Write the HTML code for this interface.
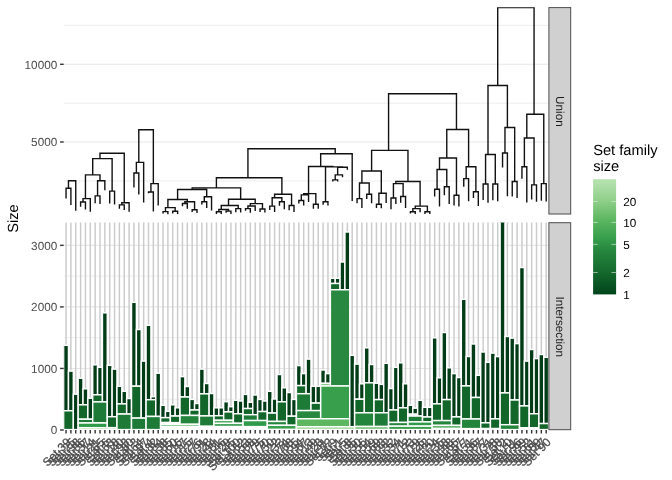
<!DOCTYPE html><html><head><meta charset="utf-8"><title>Hierarchical sets</title>
<style>html,body{margin:0;padding:0;background:#fff}svg{display:block;will-change:transform;opacity:0.9999}text{font-family:"Liberation Sans",Arial,Helvetica,sans-serif;text-rendering:geometricPrecision}</style></head><body>
<svg width="672" height="480" viewBox="0 0 672 480">
<rect width="672" height="480" fill="#fff"/>
<defs><clipPath id="ct"><rect x="63.70" y="7.30" width="484.90" height="207.00"/></clipPath><clipPath id="cb"><rect x="63.70" y="222.40" width="484.90" height="207.60"/></clipPath>
<linearGradient id="lg" x1="0" y1="1" x2="0" y2="0">
<stop offset="0.000" stop-color="#00441B"/>
<stop offset="0.188" stop-color="#14682C"/>
<stop offset="0.298" stop-color="#1E7A37"/>
<stop offset="0.376" stop-color="#25853D"/>
<stop offset="0.486" stop-color="#369E4C"/>
<stop offset="0.650" stop-color="#5DB761"/>
<stop offset="0.813" stop-color="#8FCF8A"/>
<stop offset="1.000" stop-color="#B8E3B2"/>
</linearGradient></defs>
<g stroke="#E7E7E7" fill="none">
<line x1="63.70" x2="548.60" y1="25.40" y2="25.40" stroke-width="0.71"/>
<line x1="63.70" x2="548.60" y1="103.20" y2="103.20" stroke-width="0.71"/>
<line x1="63.70" x2="548.60" y1="180.90" y2="180.90" stroke-width="0.71"/>
<line x1="63.70" x2="548.60" y1="64.30" y2="64.30" stroke-width="1.1"/>
<line x1="63.70" x2="548.60" y1="142.00" y2="142.00" stroke-width="1.1"/>
</g>
<g stroke="#E7E7E7" fill="none">
<line x1="63.70" x2="548.60" y1="399.23" y2="399.23" stroke-width="0.71"/>
<line x1="63.70" x2="548.60" y1="337.68" y2="337.68" stroke-width="0.71"/>
<line x1="63.70" x2="548.60" y1="276.12" y2="276.12" stroke-width="0.71"/>
<line x1="63.70" x2="548.60" y1="368.45" y2="368.45" stroke-width="1.1"/>
<line x1="63.70" x2="548.60" y1="306.90" y2="306.90" stroke-width="1.1"/>
<line x1="63.70" x2="548.60" y1="245.35" y2="245.35" stroke-width="1.1"/>
</g>
<g stroke="#CBCBCB" stroke-width="1.45" fill="none">
<path d="M66.05 222.40V430.00M70.90 222.40V430.00M75.75 222.40V430.00M80.60 222.40V430.00M85.45 222.40V430.00M90.30 222.40V430.00M95.15 222.40V430.00M100.00 222.40V430.00M104.85 222.40V430.00M109.70 222.40V430.00M114.55 222.40V430.00M119.40 222.40V430.00M124.25 222.40V430.00M129.10 222.40V430.00M133.95 222.40V430.00M138.80 222.40V430.00M143.65 222.40V430.00M148.50 222.40V430.00M153.35 222.40V430.00M158.20 222.40V430.00M163.05 222.40V430.00M167.90 222.40V430.00M172.75 222.40V430.00M177.60 222.40V430.00M182.45 222.40V430.00M187.30 222.40V430.00M192.15 222.40V430.00M197.00 222.40V430.00M201.85 222.40V430.00M206.70 222.40V430.00M211.55 222.40V430.00M216.40 222.40V430.00M221.25 222.40V430.00M226.10 222.40V430.00M230.95 222.40V430.00M235.80 222.40V430.00M240.65 222.40V430.00M245.50 222.40V430.00M250.35 222.40V430.00M255.20 222.40V430.00M260.05 222.40V430.00M264.90 222.40V430.00M269.75 222.40V430.00M274.60 222.40V430.00M279.45 222.40V430.00M284.30 222.40V430.00M289.15 222.40V430.00M294.00 222.40V430.00M298.85 222.40V430.00M303.70 222.40V430.00M308.55 222.40V430.00M313.40 222.40V430.00M318.25 222.40V430.00M323.10 222.40V430.00M327.95 222.40V430.00M332.80 222.40V430.00M337.65 222.40V430.00M342.50 222.40V430.00M347.35 222.40V430.00M352.20 222.40V430.00M357.05 222.40V430.00M361.90 222.40V430.00M366.75 222.40V430.00M371.60 222.40V430.00M376.45 222.40V430.00M381.30 222.40V430.00M386.15 222.40V430.00M391.00 222.40V430.00M395.85 222.40V430.00M400.70 222.40V430.00M405.55 222.40V430.00M410.40 222.40V430.00M415.25 222.40V430.00M420.10 222.40V430.00M424.95 222.40V430.00M429.80 222.40V430.00M434.65 222.40V430.00M439.50 222.40V430.00M444.35 222.40V430.00M449.20 222.40V430.00M454.05 222.40V430.00M458.90 222.40V430.00M463.75 222.40V430.00M468.60 222.40V430.00M473.45 222.40V430.00M478.30 222.40V430.00M483.15 222.40V430.00M488.00 222.40V430.00M492.85 222.40V430.00M497.70 222.40V430.00M502.55 222.40V430.00M507.40 222.40V430.00M512.25 222.40V430.00M517.10 222.40V430.00M521.95 222.40V430.00M526.80 222.40V430.00M531.65 222.40V430.00M536.50 222.40V430.00M541.35 222.40V430.00M546.20 222.40V430.00"/>
</g>
<g clip-path="url(#cb)" stroke="#fff" stroke-width="1.45">
<rect x="63.62" y="345.30" width="4.85" height="65.45" fill="#013C17"/>
<rect x="68.47" y="371.10" width="4.85" height="39.65" fill="#013C17"/>
<rect x="63.62" y="410.75" width="9.70" height="18.85" fill="#126629"/>
<rect x="73.33" y="394.20" width="4.85" height="35.40" fill="#013C17"/>
<rect x="78.17" y="378.20" width="4.85" height="26.60" fill="#013C17"/>
<rect x="83.02" y="388.80" width="4.85" height="16.00" fill="#013C17"/>
<rect x="78.17" y="404.80" width="9.70" height="14.40" fill="#126629"/>
<rect x="87.88" y="398.20" width="4.85" height="21.00" fill="#013C17"/>
<rect x="78.17" y="419.20" width="14.55" height="3.80" fill="#1E7A37"/>
<rect x="92.72" y="364.80" width="4.85" height="30.00" fill="#013C17"/>
<rect x="97.58" y="367.30" width="4.85" height="27.50" fill="#013C17"/>
<rect x="92.72" y="394.80" width="9.70" height="7.10" fill="#126629"/>
<rect x="102.42" y="312.80" width="4.85" height="89.10" fill="#013C17"/>
<rect x="92.72" y="401.90" width="14.55" height="20.90" fill="#1E7A37"/>
<rect x="78.17" y="423.00" width="29.10" height="4.70" fill="#2F9A49"/>
<rect x="78.17" y="427.70" width="38.80" height="1.90" fill="#A5D9A0"/>
<rect x="107.27" y="365.30" width="4.85" height="51.40" fill="#013C17"/>
<rect x="112.12" y="369.10" width="4.85" height="47.60" fill="#013C17"/>
<rect x="107.27" y="416.70" width="9.70" height="10.90" fill="#126629"/>
<rect x="116.97" y="386.30" width="4.85" height="17.55" fill="#013C17"/>
<rect x="121.83" y="391.30" width="4.85" height="12.55" fill="#013C17"/>
<rect x="116.97" y="403.85" width="9.70" height="10.20" fill="#126629"/>
<rect x="126.67" y="398.50" width="4.85" height="15.55" fill="#013C17"/>
<rect x="116.97" y="414.05" width="14.55" height="15.55" fill="#1E7A37"/>
<rect x="131.52" y="302.30" width="4.85" height="83.90" fill="#013C17"/>
<rect x="136.38" y="329.50" width="4.85" height="56.70" fill="#013C17"/>
<rect x="131.52" y="386.20" width="9.70" height="31.90" fill="#126629"/>
<rect x="141.22" y="361.10" width="4.85" height="57.00" fill="#013C17"/>
<rect x="131.52" y="418.10" width="14.55" height="11.50" fill="#1E7A37"/>
<rect x="146.07" y="325.30" width="4.85" height="74.40" fill="#013C17"/>
<rect x="150.92" y="396.70" width="4.85" height="3.00" fill="#013C17"/>
<rect x="146.07" y="399.70" width="9.70" height="16.75" fill="#126629"/>
<rect x="155.77" y="373.20" width="4.85" height="43.25" fill="#013C17"/>
<rect x="146.07" y="416.45" width="14.55" height="13.15" fill="#1E7A37"/>
<rect x="160.62" y="405.30" width="4.85" height="12.35" fill="#013C17"/>
<rect x="165.47" y="411.30" width="4.85" height="6.35" fill="#013C17"/>
<rect x="160.62" y="417.65" width="9.70" height="4.85" fill="#126629"/>
<rect x="170.32" y="404.80" width="4.85" height="11.25" fill="#013C17"/>
<rect x="175.17" y="407.80" width="4.85" height="8.25" fill="#013C17"/>
<rect x="170.32" y="416.05" width="9.70" height="6.70" fill="#126629"/>
<rect x="160.62" y="422.60" width="19.40" height="1.80" fill="#fff"/>
<rect x="180.02" y="376.60" width="4.85" height="20.40" fill="#013C17"/>
<rect x="184.87" y="386.50" width="4.85" height="10.50" fill="#013C17"/>
<rect x="180.02" y="397.00" width="9.70" height="18.45" fill="#126629"/>
<rect x="189.72" y="399.40" width="4.85" height="10.60" fill="#013C17"/>
<rect x="194.57" y="403.50" width="4.85" height="6.50" fill="#013C17"/>
<rect x="189.72" y="410.00" width="9.70" height="5.45" fill="#126629"/>
<rect x="180.02" y="415.45" width="19.40" height="8.85" fill="#23843C"/>
<rect x="160.62" y="424.30" width="38.80" height="2.20" fill="#4FAE5E"/>
<rect x="160.62" y="426.50" width="53.35" height="1.80" fill="#fff"/>
<rect x="160.62" y="428.30" width="135.80" height="1.30" fill="#fff"/>
<rect x="199.42" y="369.10" width="4.85" height="24.75" fill="#013C17"/>
<rect x="204.27" y="383.50" width="4.85" height="10.35" fill="#013C17"/>
<rect x="199.42" y="393.85" width="9.70" height="22.05" fill="#126629"/>
<rect x="209.12" y="393.50" width="4.85" height="22.40" fill="#013C17"/>
<rect x="199.42" y="415.90" width="14.55" height="10.20" fill="#1E7A37"/>
<rect x="213.97" y="407.80" width="4.85" height="7.90" fill="#013C17"/>
<rect x="218.82" y="407.80" width="4.85" height="7.90" fill="#013C17"/>
<rect x="213.97" y="415.70" width="9.70" height="4.60" fill="#126629"/>
<rect x="223.67" y="401.70" width="4.85" height="10.20" fill="#013C17"/>
<rect x="228.52" y="406.70" width="4.85" height="5.20" fill="#013C17"/>
<rect x="223.67" y="411.90" width="9.70" height="8.40" fill="#126629"/>
<rect x="213.97" y="420.30" width="19.40" height="3.20" fill="#4FAE5E"/>
<rect x="233.38" y="400.30" width="4.85" height="13.45" fill="#013C17"/>
<rect x="238.22" y="401.00" width="4.85" height="12.75" fill="#013C17"/>
<rect x="233.38" y="413.75" width="9.70" height="9.45" fill="#126629"/>
<rect x="213.97" y="423.40" width="29.10" height="3.20" fill="#2F9A49"/>
<rect x="213.97" y="426.60" width="53.35" height="1.70" fill="#fff"/>
<rect x="243.07" y="394.40" width="4.85" height="14.15" fill="#013C17"/>
<rect x="247.92" y="402.30" width="4.85" height="6.25" fill="#013C17"/>
<rect x="243.07" y="408.55" width="9.70" height="6.15" fill="#126629"/>
<rect x="252.77" y="395.00" width="4.85" height="19.70" fill="#013C17"/>
<rect x="243.07" y="414.70" width="14.55" height="5.85" fill="#1E7A37"/>
<rect x="257.62" y="399.40" width="4.85" height="12.15" fill="#013C17"/>
<rect x="262.47" y="401.00" width="4.85" height="10.55" fill="#013C17"/>
<rect x="257.62" y="411.55" width="9.70" height="9.00" fill="#126629"/>
<rect x="243.07" y="420.55" width="24.25" height="6.05" fill="#2F9A49"/>
<rect x="267.32" y="391.30" width="4.85" height="21.75" fill="#013C17"/>
<rect x="272.17" y="399.00" width="4.85" height="14.05" fill="#013C17"/>
<rect x="267.32" y="413.05" width="9.70" height="8.40" fill="#126629"/>
<rect x="277.02" y="374.50" width="4.85" height="27.30" fill="#013C17"/>
<rect x="281.87" y="387.80" width="4.85" height="14.00" fill="#013C17"/>
<rect x="277.02" y="401.80" width="9.70" height="19.65" fill="#126629"/>
<rect x="267.32" y="421.45" width="19.40" height="3.85" fill="#23843C"/>
<rect x="286.72" y="392.50" width="4.85" height="23.70" fill="#013C17"/>
<rect x="291.57" y="399.40" width="4.85" height="16.80" fill="#013C17"/>
<rect x="286.72" y="416.20" width="9.70" height="9.10" fill="#126629"/>
<rect x="267.32" y="425.30" width="29.10" height="4.00" fill="#389F4D"/>
<rect x="296.42" y="365.60" width="4.85" height="20.00" fill="#013C17"/>
<rect x="301.27" y="373.60" width="4.85" height="12.00" fill="#013C17"/>
<rect x="296.42" y="385.60" width="9.70" height="8.10" fill="#126629"/>
<rect x="306.12" y="359.10" width="4.85" height="34.60" fill="#013C17"/>
<rect x="296.42" y="393.70" width="14.55" height="16.90" fill="#1E7A37"/>
<rect x="310.97" y="386.30" width="4.85" height="16.80" fill="#013C17"/>
<rect x="315.82" y="386.30" width="4.85" height="16.80" fill="#013C17"/>
<rect x="310.97" y="403.10" width="9.70" height="7.50" fill="#126629"/>
<rect x="296.42" y="410.60" width="24.25" height="8.15" fill="#29883F"/>
<rect x="320.67" y="370.00" width="4.85" height="13.35" fill="#013C17"/>
<rect x="325.52" y="373.60" width="4.85" height="9.75" fill="#013C17"/>
<rect x="320.67" y="383.35" width="9.70" height="2.85" fill="#7CC47F"/>
<rect x="330.38" y="278.30" width="4.85" height="5.20" fill="#013C17"/>
<rect x="335.22" y="278.30" width="4.85" height="5.20" fill="#013C17"/>
<rect x="330.38" y="283.50" width="9.70" height="6.25" fill="#126629"/>
<rect x="340.07" y="262.00" width="4.85" height="27.75" fill="#013C17"/>
<rect x="344.92" y="232.00" width="4.85" height="57.75" fill="#013C17"/>
<rect x="330.38" y="289.75" width="19.40" height="96.25" fill="#29883F"/>
<rect x="320.67" y="386.00" width="29.10" height="32.75" fill="#389F4D"/>
<rect x="296.42" y="418.75" width="53.35" height="7.95" fill="#5DB761"/>
<rect x="349.77" y="355.30" width="4.85" height="71.40" fill="#013C17"/>
<rect x="296.42" y="426.70" width="58.20" height="2.90" fill="#A5D9A0"/>
<rect x="354.62" y="364.10" width="4.85" height="35.10" fill="#013C17"/>
<rect x="359.47" y="383.80" width="4.85" height="15.40" fill="#013C17"/>
<rect x="354.62" y="399.20" width="9.70" height="13.60" fill="#126629"/>
<rect x="364.32" y="347.80" width="4.85" height="35.00" fill="#013C17"/>
<rect x="369.17" y="364.50" width="4.85" height="18.30" fill="#013C17"/>
<rect x="364.32" y="382.80" width="9.70" height="30.00" fill="#126629"/>
<rect x="354.62" y="412.80" width="19.40" height="13.70" fill="#23843C"/>
<rect x="374.02" y="383.20" width="4.85" height="16.40" fill="#013C17"/>
<rect x="378.88" y="384.40" width="4.85" height="15.20" fill="#013C17"/>
<rect x="374.02" y="399.60" width="9.70" height="13.20" fill="#126629"/>
<rect x="383.72" y="363.30" width="4.85" height="49.50" fill="#013C17"/>
<rect x="374.02" y="412.80" width="14.55" height="13.70" fill="#1E7A37"/>
<rect x="354.62" y="426.50" width="33.95" height="3.10" fill="#7CC47F"/>
<rect x="388.57" y="388.50" width="4.85" height="21.45" fill="#013C17"/>
<rect x="393.42" y="367.30" width="4.85" height="42.65" fill="#013C17"/>
<rect x="388.57" y="409.95" width="9.70" height="12.50" fill="#126629"/>
<rect x="398.27" y="362.80" width="4.85" height="45.00" fill="#013C17"/>
<rect x="403.12" y="383.80" width="4.85" height="24.00" fill="#013C17"/>
<rect x="398.27" y="407.80" width="9.70" height="14.65" fill="#126629"/>
<rect x="388.57" y="422.45" width="19.40" height="3.75" fill="#23843C"/>
<rect x="407.97" y="405.30" width="4.85" height="8.90" fill="#013C17"/>
<rect x="412.82" y="408.20" width="4.85" height="6.00" fill="#013C17"/>
<rect x="407.97" y="414.20" width="9.70" height="1.85" fill="#fff"/>
<rect x="417.67" y="400.30" width="4.85" height="15.75" fill="#013C17"/>
<rect x="407.97" y="416.05" width="14.55" height="5.85" fill="#1E7A37"/>
<rect x="422.52" y="407.30" width="4.85" height="9.70" fill="#013C17"/>
<rect x="427.38" y="407.30" width="4.85" height="9.70" fill="#013C17"/>
<rect x="422.52" y="417.00" width="9.70" height="4.90" fill="#126629"/>
<rect x="407.97" y="421.90" width="24.25" height="4.25" fill="#2F9A49"/>
<rect x="388.57" y="426.15" width="43.65" height="3.45" fill="#389F4D"/>
<rect x="432.22" y="337.80" width="4.85" height="66.05" fill="#013C17"/>
<rect x="437.07" y="377.80" width="4.85" height="26.05" fill="#013C17"/>
<rect x="432.22" y="403.85" width="9.70" height="16.75" fill="#126629"/>
<rect x="441.92" y="332.50" width="4.85" height="67.10" fill="#013C17"/>
<rect x="446.77" y="367.80" width="4.85" height="31.80" fill="#013C17"/>
<rect x="441.92" y="399.60" width="9.70" height="21.00" fill="#126629"/>
<rect x="432.22" y="420.60" width="19.40" height="4.80" fill="#23843C"/>
<rect x="451.62" y="373.60" width="4.85" height="43.30" fill="#013C17"/>
<rect x="456.47" y="377.50" width="4.85" height="39.40" fill="#013C17"/>
<rect x="451.62" y="416.90" width="9.70" height="8.50" fill="#126629"/>
<rect x="432.22" y="425.40" width="29.10" height="3.10" fill="#4FAE5E"/>
<rect x="432.22" y="428.50" width="48.50" height="1.10" fill="#fff"/>
<rect x="461.32" y="299.30" width="4.85" height="86.60" fill="#013C17"/>
<rect x="466.17" y="356.50" width="4.85" height="29.40" fill="#013C17"/>
<rect x="461.32" y="385.90" width="9.70" height="33.10" fill="#126629"/>
<rect x="471.02" y="344.00" width="4.85" height="53.50" fill="#013C17"/>
<rect x="475.87" y="375.30" width="4.85" height="22.20" fill="#013C17"/>
<rect x="471.02" y="397.50" width="9.70" height="21.50" fill="#126629"/>
<rect x="461.32" y="419.00" width="19.40" height="9.60" fill="#23843C"/>
<rect x="480.72" y="352.00" width="4.85" height="70.80" fill="#013C17"/>
<rect x="485.57" y="362.30" width="4.85" height="60.50" fill="#013C17"/>
<rect x="480.72" y="422.80" width="9.70" height="5.80" fill="#126629"/>
<rect x="490.42" y="353.10" width="4.85" height="65.75" fill="#013C17"/>
<rect x="495.27" y="356.60" width="4.85" height="62.25" fill="#013C17"/>
<rect x="490.42" y="418.85" width="9.70" height="9.75" fill="#126629"/>
<rect x="480.72" y="428.60" width="19.40" height="1.00" fill="#fff"/>
<rect x="500.12" y="221.50" width="4.85" height="171.40" fill="#013C17"/>
<rect x="504.97" y="336.50" width="4.85" height="56.40" fill="#013C17"/>
<rect x="500.12" y="392.90" width="9.70" height="31.80" fill="#126629"/>
<rect x="509.82" y="338.10" width="4.85" height="61.90" fill="#013C17"/>
<rect x="514.67" y="343.60" width="4.85" height="56.40" fill="#013C17"/>
<rect x="509.82" y="400.00" width="9.70" height="24.70" fill="#126629"/>
<rect x="500.12" y="424.70" width="19.40" height="4.90" fill="#23843C"/>
<rect x="519.52" y="267.50" width="4.85" height="138.40" fill="#013C17"/>
<rect x="524.38" y="361.10" width="4.85" height="44.80" fill="#013C17"/>
<rect x="519.52" y="405.90" width="9.70" height="22.00" fill="#126629"/>
<rect x="529.23" y="349.50" width="4.85" height="64.25" fill="#013C17"/>
<rect x="534.08" y="358.60" width="4.85" height="55.15" fill="#013C17"/>
<rect x="529.23" y="413.75" width="9.70" height="14.15" fill="#126629"/>
<rect x="519.52" y="427.90" width="19.40" height="1.70" fill="#fff"/>
<rect x="538.92" y="354.50" width="4.85" height="69.05" fill="#013C17"/>
<rect x="543.77" y="357.30" width="4.85" height="66.25" fill="#013C17"/>
<rect x="538.92" y="423.55" width="9.70" height="6.05" fill="#126629"/>
</g>
<g clip-path="url(#ct)"><path d="M68.47 188.20V180.75H75.75V210.75M66.05 198.39V188.20H70.90V204.91M100.00 158.60V153.30H124.25V202.75M92.72 174.90V158.60H112.12V191.10M85.45 198.60V174.90H100.00V180.75M83.02 202.00V198.60H90.30V211.76M80.60 206.70V202.00H85.45V209.38M97.57 195.90V180.75H104.85V190.17M95.15 203.32V195.90H100.00V203.95M109.70 203.44V191.10H114.55V204.40M121.82 204.90V202.75H129.10V211.84M119.40 208.75V204.90H124.25V210.02M138.80 162.40V129.75H153.35V183.60M136.38 173.00V162.40H143.65V202.38M133.95 187.52V173.00H138.80V194.39M150.93 192.00V183.60H158.20V205.44M148.50 193.33V192.00H153.35V211.38M247.93 177.75V148.75H335.22V153.75M216.40 187.90V177.75H281.88V194.25M192.15 189.45V187.90H240.65V199.25M177.60 199.50V189.45H206.70V196.75M167.90 207.60V199.50H187.30V201.80M165.47 211.60V207.60H175.17V211.20M163.05 213.56V211.60H167.90V215.07M172.75 213.43V211.20H177.60V214.19M184.88 203.50V201.80H194.57V209.70M182.45 206.30V203.50H187.30V208.80M192.15 212.06V209.70H197.00V213.10M204.27 201.75V196.75H211.55V210.57M201.85 204.40V201.75H206.70V208.04M228.52 205.50V199.25H255.20V203.60M221.25 209.50V205.50H238.22V208.60M218.82 211.75V209.50H228.52V211.10M216.40 214.19V211.75H221.25V214.19M226.10 212.65V211.10H230.95V213.91M235.80 212.29V208.60H240.65V212.47M250.35 206.00V203.60H262.47V209.00M247.93 208.60V206.00H255.20V210.95M245.50 210.80V208.60H250.35V212.80M260.05 212.06V209.00H264.90V212.47M274.60 197.75V194.25H291.57V205.50M272.17 206.10V197.75H281.88V201.75M269.75 210.02V206.10H274.60V211.96M279.45 205.77V201.75H284.30V209.13M289.15 210.32V205.50H294.00V212.06M320.67 166.50V153.75H352.20V200.92M308.55 193.60V166.50H332.80V166.90M303.70 194.90V193.60H315.82V204.25M301.27 200.50V194.90H308.55V201.88M298.85 203.52V200.50H303.70V205.54M313.40 208.75V204.25H318.25V208.75M325.52 201.75V166.90H342.50V167.30M323.10 204.63V201.75H327.95V205.54M337.65 174.90V167.30H347.35V169.75M335.22 179.90V174.90H342.50V177.33M332.80 181.45V179.90H337.65V181.45M388.57 150.40V93.75H456.47V129.50M371.60 171.00V150.40H407.97V181.50M361.90 183.00V171.00H381.30V193.25M359.47 198.60V183.00H369.18V194.25M357.05 203.14V198.60H361.90V208.12M366.75 199.02V194.25H371.60V203.24M378.88 204.25V193.25H386.15V202.94M376.45 207.97V204.25H381.30V208.27M395.85 183.60V181.50H420.10V206.10M393.43 198.00V183.60H403.12V196.50M391.00 209.31V198.00H395.85V203.95M400.70 202.81V196.50H405.55V208.12M415.25 208.60V206.10H427.38V211.75M412.82 211.75V208.60H420.10V212.29M410.40 213.56V211.75H415.25V214.29M424.95 214.06V211.75H429.80V214.06M446.77 158.00V129.50H468.60V166.75M439.50 169.50V158.00H456.47V195.25M437.07 189.25V169.50H446.77V186.75M434.65 196.49V189.25H439.50V206.60M444.35 195.15V186.75H449.20V204.08M454.05 205.54V195.25H458.90V206.53M466.17 178.60V166.75H475.88V191.75M463.75 186.76V178.60H468.60V201.22M473.45 198.06V191.75H478.30V205.97M497.70 85.50V7.60H534.07V114.25M488.00 154.50V85.50H507.40V127.50M485.57 184.00V154.50H495.27V184.00M483.15 200.08V184.00H488.00V202.69M492.85 200.36V184.00H497.70V201.24M504.97 153.00V127.50H514.67V181.50M502.55 167.40V153.00H507.40V196.16M512.25 196.57V181.50H517.10V197.96M526.80 138.00V114.25H543.77V183.60M524.38 166.75V138.00H534.07V184.90M521.95 178.72V166.75H526.80V202.38M531.65 199.45V184.90H536.50V201.75M541.35 200.71V183.60H546.20V201.42" fill="none" stroke="#111" stroke-width="1.4" stroke-linejoin="miter"/></g>
<rect x="548.90" y="7.60" width="21.80" height="206.40" fill="#D0D0D0" stroke="#4D4D4D" stroke-width="1"/>
<text transform="translate(555.80 111.40) rotate(90)" text-anchor="middle" font-size="11.73" fill="#1A1A1A">Union</text>
<rect x="548.90" y="222.70" width="21.80" height="207.00" fill="#D0D0D0" stroke="#4D4D4D" stroke-width="1"/>
<text transform="translate(555.80 326.80) rotate(90)" text-anchor="middle" font-size="11.73" fill="#1A1A1A">Intersection</text>
<g stroke="#333" stroke-width="1.42" fill="none">
<line x1="60.1" x2="63.70" y1="64.30" y2="64.30"/>
<line x1="60.1" x2="63.70" y1="142.00" y2="142.00"/>
<line x1="60.1" x2="63.70" y1="430.00" y2="430.00"/>
<line x1="60.1" x2="63.70" y1="368.45" y2="368.45"/>
<line x1="60.1" x2="63.70" y1="306.90" y2="306.90"/>
<line x1="60.1" x2="63.70" y1="245.35" y2="245.35"/>
<path d="M66.05 430.00V433.60M70.90 430.00V433.60M75.75 430.00V433.60M80.60 430.00V433.60M85.45 430.00V433.60M90.30 430.00V433.60M95.15 430.00V433.60M100.00 430.00V433.60M104.85 430.00V433.60M109.70 430.00V433.60M114.55 430.00V433.60M119.40 430.00V433.60M124.25 430.00V433.60M129.10 430.00V433.60M133.95 430.00V433.60M138.80 430.00V433.60M143.65 430.00V433.60M148.50 430.00V433.60M153.35 430.00V433.60M158.20 430.00V433.60M163.05 430.00V433.60M167.90 430.00V433.60M172.75 430.00V433.60M177.60 430.00V433.60M182.45 430.00V433.60M187.30 430.00V433.60M192.15 430.00V433.60M197.00 430.00V433.60M201.85 430.00V433.60M206.70 430.00V433.60M211.55 430.00V433.60M216.40 430.00V433.60M221.25 430.00V433.60M226.10 430.00V433.60M230.95 430.00V433.60M235.80 430.00V433.60M240.65 430.00V433.60M245.50 430.00V433.60M250.35 430.00V433.60M255.20 430.00V433.60M260.05 430.00V433.60M264.90 430.00V433.60M269.75 430.00V433.60M274.60 430.00V433.60M279.45 430.00V433.60M284.30 430.00V433.60M289.15 430.00V433.60M294.00 430.00V433.60M298.85 430.00V433.60M303.70 430.00V433.60M308.55 430.00V433.60M313.40 430.00V433.60M318.25 430.00V433.60M323.10 430.00V433.60M327.95 430.00V433.60M332.80 430.00V433.60M337.65 430.00V433.60M342.50 430.00V433.60M347.35 430.00V433.60M352.20 430.00V433.60M357.05 430.00V433.60M361.90 430.00V433.60M366.75 430.00V433.60M371.60 430.00V433.60M376.45 430.00V433.60M381.30 430.00V433.60M386.15 430.00V433.60M391.00 430.00V433.60M395.85 430.00V433.60M400.70 430.00V433.60M405.55 430.00V433.60M410.40 430.00V433.60M415.25 430.00V433.60M420.10 430.00V433.60M424.95 430.00V433.60M429.80 430.00V433.60M434.65 430.00V433.60M439.50 430.00V433.60M444.35 430.00V433.60M449.20 430.00V433.60M454.05 430.00V433.60M458.90 430.00V433.60M463.75 430.00V433.60M468.60 430.00V433.60M473.45 430.00V433.60M478.30 430.00V433.60M483.15 430.00V433.60M488.00 430.00V433.60M492.85 430.00V433.60M497.70 430.00V433.60M502.55 430.00V433.60M507.40 430.00V433.60M512.25 430.00V433.60M517.10 430.00V433.60M521.95 430.00V433.60M526.80 430.00V433.60M531.65 430.00V433.60M536.50 430.00V433.60M541.35 430.00V433.60M546.20 430.00V433.60"/>
</g>
<g font-size="11.73" fill="#4D4D4D" text-anchor="end">
<text x="57.2" y="68.50">10000</text>
<text x="57.2" y="146.20">5000</text>
<text x="57.2" y="434.20">0</text>
<text x="57.2" y="372.65">1000</text>
<text x="57.2" y="311.10">2000</text>
<text x="57.2" y="249.55">3000</text>
</g>
<g font-size="11.73" fill="#4D4D4D" stroke="#4D4D4D" stroke-width="0.3" text-anchor="end">
<text transform="translate(71.55 443.00) rotate(-45)">Set 39</text>
<text transform="translate(76.40 443.00) rotate(-45)">Set 25</text>
<text transform="translate(81.25 443.00) rotate(-45)">Set 98</text>
<text transform="translate(86.10 443.00) rotate(-45)">Set 86</text>
<text transform="translate(90.95 443.00) rotate(-45)">Set 37</text>
<text transform="translate(95.80 443.00) rotate(-45)">Set 14</text>
<text transform="translate(100.65 443.00) rotate(-45)">Set 21</text>
<text transform="translate(105.50 443.00) rotate(-45)">Set 65</text>
<text transform="translate(110.35 443.00) rotate(-45)">Set 6</text>
<text transform="translate(115.20 443.00) rotate(-45)">Set 63</text>
<text transform="translate(120.05 443.00) rotate(-45)">Set 18</text>
<text transform="translate(124.90 443.00) rotate(-45)">Set 40</text>
<text transform="translate(129.75 443.00) rotate(-45)">Set 93</text>
<text transform="translate(134.60 443.00) rotate(-45)">Set 80</text>
<text transform="translate(139.45 443.00) rotate(-45)">Set 3</text>
<text transform="translate(144.30 443.00) rotate(-45)">Set 64</text>
<text transform="translate(149.15 443.00) rotate(-45)">Set 97</text>
<text transform="translate(154.00 443.00) rotate(-45)">Set 4</text>
<text transform="translate(158.85 443.00) rotate(-45)">Set 82</text>
<text transform="translate(163.70 443.00) rotate(-45)">Set 84</text>
<text transform="translate(168.55 443.00) rotate(-45)">Set 38</text>
<text transform="translate(173.40 443.00) rotate(-45)">Set 85</text>
<text transform="translate(178.25 443.00) rotate(-45)">Set 60</text>
<text transform="translate(183.10 443.00) rotate(-45)">Set 16</text>
<text transform="translate(187.95 443.00) rotate(-45)">Set 17</text>
<text transform="translate(192.80 443.00) rotate(-45)">Set 15</text>
<text transform="translate(197.65 443.00) rotate(-45)">Set 27</text>
<text transform="translate(202.50 443.00) rotate(-45)">Set 76</text>
<text transform="translate(207.35 443.00) rotate(-45)">Set 91</text>
<text transform="translate(212.20 443.00) rotate(-45)">Set 28</text>
<text transform="translate(217.05 443.00) rotate(-45)">Set 44</text>
<text transform="translate(221.90 443.00) rotate(-45)">Set 81</text>
<text transform="translate(226.75 443.00) rotate(-45)">Set 46</text>
<text transform="translate(231.60 443.00) rotate(-45)">Set 29</text>
<text transform="translate(236.45 443.00) rotate(-45)">Set 45</text>
<text transform="translate(241.30 443.00) rotate(-45)">Set 100</text>
<text transform="translate(246.15 443.00) rotate(-45)">Set 62</text>
<text transform="translate(251.00 443.00) rotate(-45)">Set 53</text>
<text transform="translate(255.85 443.00) rotate(-45)">Set 88</text>
<text transform="translate(260.70 443.00) rotate(-45)">Set 79</text>
<text transform="translate(265.55 443.00) rotate(-45)">Set 75</text>
<text transform="translate(270.40 443.00) rotate(-45)">Set 70</text>
<text transform="translate(275.25 443.00) rotate(-45)">Set 50</text>
<text transform="translate(280.10 443.00) rotate(-45)">Set 22</text>
<text transform="translate(284.95 443.00) rotate(-45)">Set 33</text>
<text transform="translate(289.80 443.00) rotate(-45)">Set 74</text>
<text transform="translate(294.65 443.00) rotate(-45)">Set 68</text>
<text transform="translate(299.50 443.00) rotate(-45)">Set 55</text>
<text transform="translate(304.35 443.00) rotate(-45)">Set 94</text>
<text transform="translate(309.20 443.00) rotate(-45)">Set 67</text>
<text transform="translate(314.05 443.00) rotate(-45)">Set 13</text>
<text transform="translate(318.90 443.00) rotate(-45)">Set 49</text>
<text transform="translate(323.75 443.00) rotate(-45)">Set 23</text>
<text transform="translate(328.60 443.00) rotate(-45)">Set 41</text>
<text transform="translate(333.45 443.00) rotate(-45)">Set 72</text>
<text transform="translate(338.30 443.00) rotate(-45)">Set 9</text>
<text transform="translate(343.15 443.00) rotate(-45)">Set 1</text>
<text transform="translate(348.00 443.00) rotate(-45)">Set 5</text>
<text transform="translate(352.85 443.00) rotate(-45)">Set 8</text>
<text transform="translate(357.70 443.00) rotate(-45)">Set 95</text>
<text transform="translate(362.55 443.00) rotate(-45)">Set 30</text>
<text transform="translate(367.40 443.00) rotate(-45)">Set 56</text>
<text transform="translate(372.25 443.00) rotate(-45)">Set 54</text>
<text transform="translate(377.10 443.00) rotate(-45)">Set 59</text>
<text transform="translate(381.95 443.00) rotate(-45)">Set 69</text>
<text transform="translate(386.80 443.00) rotate(-45)">Set 83</text>
<text transform="translate(391.65 443.00) rotate(-45)">Set 92</text>
<text transform="translate(396.50 443.00) rotate(-45)">Set 32</text>
<text transform="translate(401.35 443.00) rotate(-45)">Set 34</text>
<text transform="translate(406.20 443.00) rotate(-45)">Set 71</text>
<text transform="translate(411.05 443.00) rotate(-45)">Set 12</text>
<text transform="translate(415.90 443.00) rotate(-45)">Set 73</text>
<text transform="translate(420.75 443.00) rotate(-45)">Set 19</text>
<text transform="translate(425.60 443.00) rotate(-45)">Set 26</text>
<text transform="translate(430.45 443.00) rotate(-45)">Set 42</text>
<text transform="translate(435.30 443.00) rotate(-45)">Set 20</text>
<text transform="translate(440.15 443.00) rotate(-45)">Set 24</text>
<text transform="translate(445.00 443.00) rotate(-45)">Set 35</text>
<text transform="translate(449.85 443.00) rotate(-45)">Set 43</text>
<text transform="translate(454.70 443.00) rotate(-45)">Set 48</text>
<text transform="translate(459.55 443.00) rotate(-45)">Set 66</text>
<text transform="translate(464.40 443.00) rotate(-45)">Set 57</text>
<text transform="translate(469.25 443.00) rotate(-45)">Set 7</text>
<text transform="translate(474.10 443.00) rotate(-45)">Set 51</text>
<text transform="translate(478.95 443.00) rotate(-45)">Set 36</text>
<text transform="translate(483.80 443.00) rotate(-45)">Set 87</text>
<text transform="translate(488.65 443.00) rotate(-45)">Set 77</text>
<text transform="translate(493.50 443.00) rotate(-45)">Set 31</text>
<text transform="translate(498.35 443.00) rotate(-45)">Set 78</text>
<text transform="translate(503.20 443.00) rotate(-45)">Set 58</text>
<text transform="translate(508.05 443.00) rotate(-45)">Set 2</text>
<text transform="translate(512.90 443.00) rotate(-45)">Set 10</text>
<text transform="translate(517.75 443.00) rotate(-45)">Set 11</text>
<text transform="translate(522.60 443.00) rotate(-45)">Set 96</text>
<text transform="translate(527.45 443.00) rotate(-45)">Set 99</text>
<text transform="translate(532.30 443.00) rotate(-45)">Set 52</text>
<text transform="translate(537.15 443.00) rotate(-45)">Set 61</text>
<text transform="translate(542.00 443.00) rotate(-45)">Set 89</text>
<text transform="translate(546.85 443.00) rotate(-45)">Set 47</text>
<text transform="translate(551.70 443.00) rotate(-45)">Set 90</text>
</g>
<text transform="translate(18.2 218.6) rotate(-90)" text-anchor="middle" font-size="14.67" fill="#000">Size</text>
<text x="593.2" y="154.6" font-size="14.67" fill="#000">Set family</text>
<text x="593.2" y="171.3" font-size="14.67" fill="#000">size</text>
<rect x="593.1" y="179.2" width="23" height="115.2" fill="url(#lg)"/>
<g stroke="#fff" stroke-width="0.6" opacity="0.9">
<line x1="593.1" x2="597.7" y1="272.50" y2="272.50"/><line x1="611.5" x2="616.1" y1="272.50" y2="272.50"/>
<line x1="593.1" x2="597.7" y1="244.40" y2="244.40"/><line x1="611.5" x2="616.1" y1="244.40" y2="244.40"/>
<line x1="593.1" x2="597.7" y1="222.40" y2="222.40"/><line x1="611.5" x2="616.1" y1="222.40" y2="222.40"/>
<line x1="593.1" x2="597.7" y1="201.30" y2="201.30"/><line x1="611.5" x2="616.1" y1="201.30" y2="201.30"/>
</g>
<g font-size="11.73" fill="#000">
<text x="623.3" y="298.60">1</text>
<text x="623.3" y="276.70">2</text>
<text x="623.3" y="248.60">5</text>
<text x="623.3" y="226.60">10</text>
<text x="623.3" y="205.50">20</text>
</g>
</svg></body></html>
